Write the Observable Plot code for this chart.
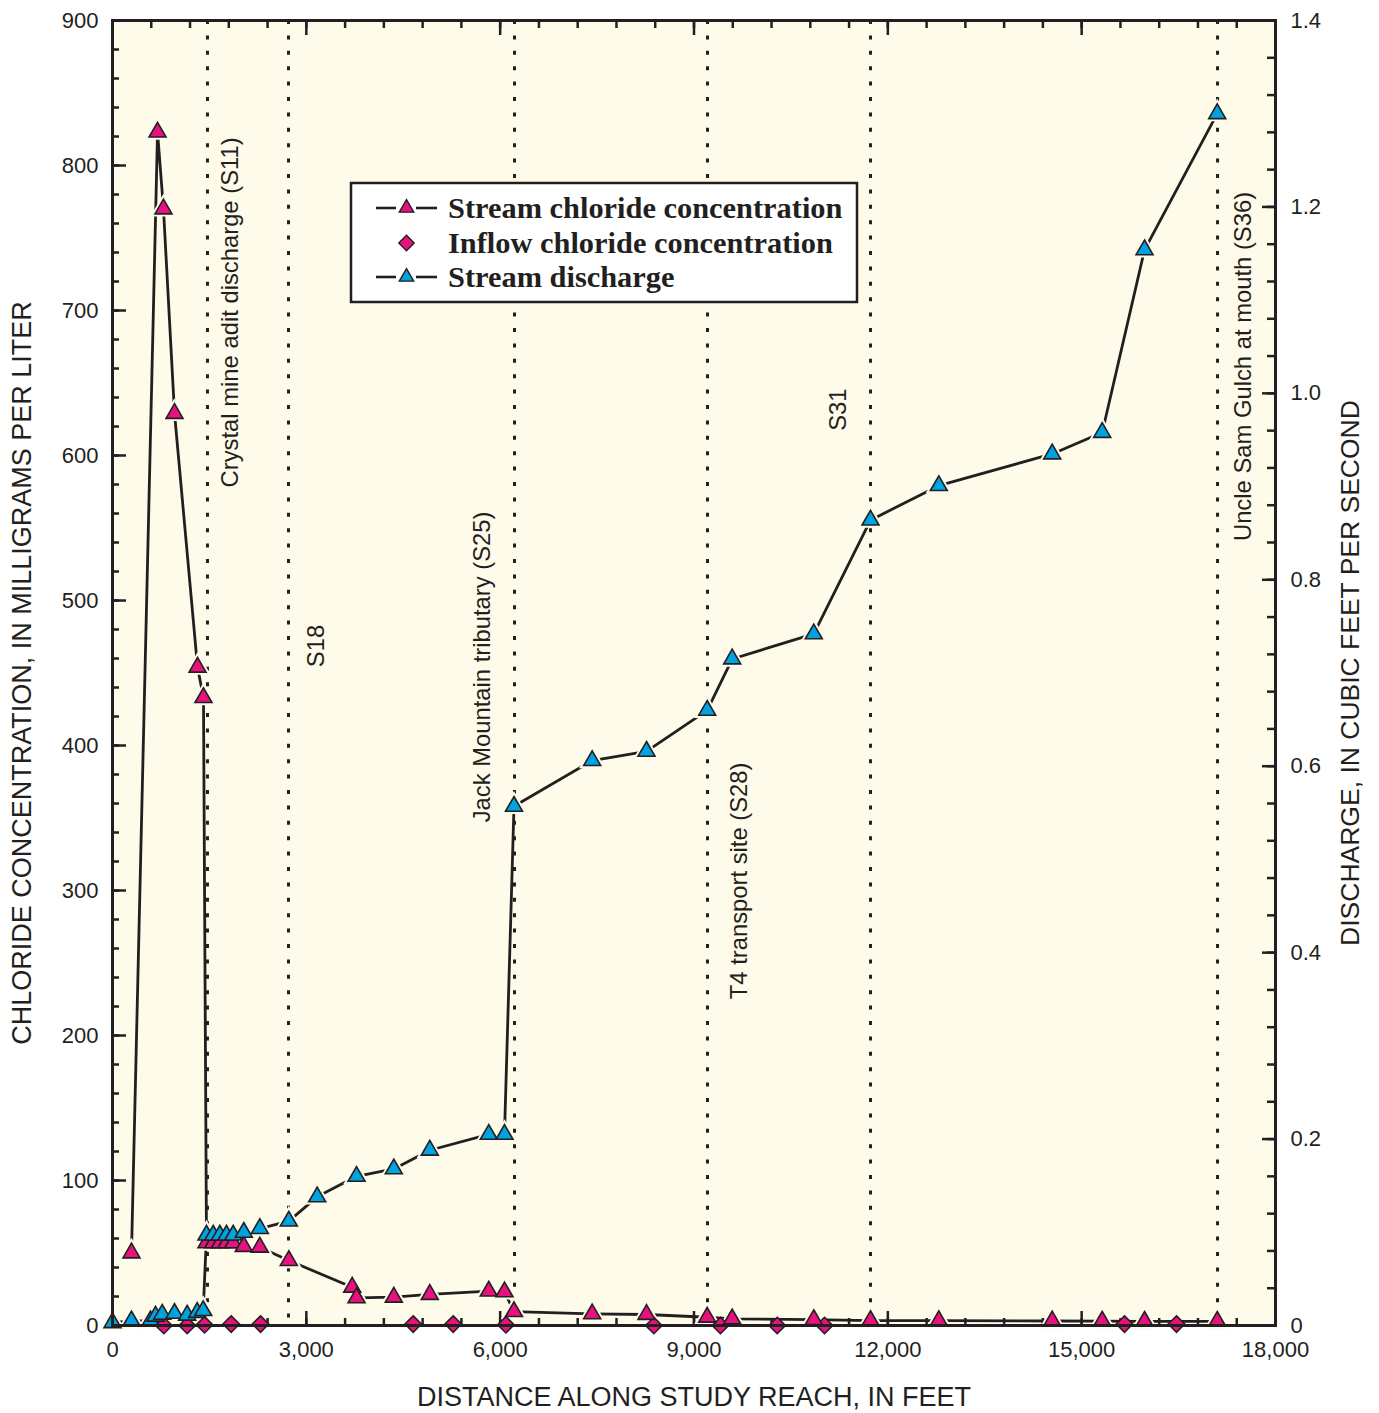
<!DOCTYPE html>
<html><head><meta charset="utf-8">
<script src="https://cdn.jsdelivr.net/npm/d3@7"></script>
<script src="https://cdn.jsdelivr.net/npm/@observablehq/plot@0.6"></script>
<style>body{margin:0;background:#fff;}</style>
</head><body><div id="chart"></div>
<script>
// ---- Data ----
const streamClDist = [294, 697, 789, 960, 1316, 1408, 1455, 1559, 1661, 1764, 1868, 2032, 2280, 2729, 3710, 3777, 4354, 4911, 5824, 6067, 6214, 7424, 8265, 9204, 9591, 10854, 11732, 12789, 14544, 15318, 15973, 17098];
const streamCl =     [50,  823, 770, 629, 454,  433,  57,   57,   57,   57,   57,   54.5, 54,   44.8, 26.4, 19.1, 19.5, 21.4, 23.7, 23.2, 9.6,  8.0,  7.6,  5.7,  4.6,  4.1,   3.4,   3.3,   3.1,   3.0,   2.9,   2.9];

const inflowDist = [794, 1156, 1424, 1837, 2291, 4654, 5273, 6089, 8378, 9410, 10288, 11020, 15663, 16468];
const inflowCl =   [0,   0,    0.5,  1,    1,    1,    1,    0.5,  0,    0,    0,     0,     1,     1];

const dischargeDist = [0, 294, 588, 666, 769, 960, 1156, 1311, 1404, 1455, 1559, 1661, 1764, 1868, 2032, 2280, 2729, 3168, 3777, 4354, 4911, 5824, 6067, 6214, 7424, 8265, 9204, 9591, 10854, 11732, 12789, 14544, 15318, 15973, 17098];
const discharge =     [0.003, 0.005, 0.005, 0.010, 0.012, 0.013, 0.011, 0.014, 0.016, 0.097, 0.097, 0.097, 0.097, 0.097, 0.100, 0.104, 0.112, 0.138, 0.160, 0.168, 0.188, 0.205, 0.205, 0.557, 0.606, 0.616, 0.660, 0.715, 0.742, 0.864, 0.901, 0.935, 0.958, 1.154, 1.300];

const siteDist =   [1470, 2724, 6222, 9209, 11732, 17103];
const siteLabels = ["Crystal mine adit discharge (S11)", "S18", "Jack Mountain tributary (S25)", "T4 transport site (S28)", "S31", "Uncle Sam Gulch at mouth (S36)"];
const siteLabelY = [578, 454, 347, 225, 617, 541];
const siteLabelDx = [23, 28, -32, 32, -32, 26];

const seriesNames = ["Stream chloride concentration", "Inflow chloride concentration", "Stream discharge"];

const xTickLabels = [0, 3000, 6000, 9000, 12000, 15000, 18000];
const xMinorTicks = d3.range(0, 18001, 600);
const yLeftLabels = [0, 100, 200, 300, 400, 500, 600, 700, 800, 900];
const yLeftMinor = d3.range(0, 901, 20);
const yRightLabels = [0, 0.2, 0.4, 0.6, 0.8, 1.0, 1.2, 1.4];
const yRightMinor = d3.range(0, 36).map(i => i * 0.04);

// ---- Styling ----
const k = 900 / 1.4; // discharge -> left-axis units
const bg = "#fefbea", pink = "#e6137f", blue = "#00a3e0", ink = "#231f20";
const font = "'Liberation Sans', Arial, Helvetica, sans-serif";

const cl = streamClDist.map((d, i) => ({x: d, y: streamCl[i]}));
const inf = inflowDist.map((d, i) => ({x: d, y: inflowCl[i]}));
const q = dischargeDist.map((d, i) => ({x: d, y: discharge[i] * k}));
const sites = siteDist.map((d, i) => ({x: d, y: siteLabelY[i], label: siteLabels[i], dx: siteLabelDx[i]}));

const tickStyle = {stroke: ink, strokeWidth: 2.5, fill: "none"};

const plot = Plot.plot({
  width: 1379, height: 1413,
  marginLeft: 112, marginRight: 104, marginTop: 20, marginBottom: 88,
  x: {domain: [0, 18000]},
  y: {domain: [0, 900]},
  style: {fontFamily: font, fontSize: "22px", color: ink, background: "#fff", overflow: "visible"},
  marks: [
    Plot.frame({fill: bg, stroke: "none"}),
    Plot.ruleX(siteDist, {x: d => d, stroke: ink, strokeWidth: 3, strokeDasharray: "4,11.4"}),
    // inward ticks
    Plot.axisX({anchor: "bottom", ticks: xMinorTicks, tickSize: -7, ...tickStyle}),
    Plot.axisX({anchor: "bottom", ticks: xTickLabels, tickSize: -14, ...tickStyle}),
    Plot.axisX({anchor: "top", ticks: xMinorTicks, tickSize: -7, ...tickStyle}),
    Plot.axisX({anchor: "top", ticks: xTickLabels, tickSize: -14, ...tickStyle}),
    Plot.axisY({anchor: "left", ticks: yLeftMinor, tickSize: -7, ...tickStyle}),
    Plot.axisY({anchor: "left", ticks: yLeftLabels, tickSize: -14, ...tickStyle}),
    Plot.axisY({anchor: "right", ticks: yRightMinor.map(v => v * k), tickSize: -9, ...tickStyle}),
    Plot.axisY({anchor: "right", ticks: yRightLabels.map(v => v * k), tickSize: -14, ...tickStyle}),
    // tick labels
    Plot.axisX({anchor: "bottom", ticks: xTickLabels, tickSize: 0, tickPadding: 16, tickFormat: d3.format(","), fontSize: 22, fill: ink, label: null}),
    Plot.axisY({anchor: "left", ticks: yLeftLabels, tickSize: 0, tickPadding: 14, tickFormat: d => String(d), fontSize: 22, fill: ink, label: null}),
    Plot.axisY({anchor: "right", ticks: yRightLabels.map(v => v * k), tickSize: 0, tickPadding: 15, tickFormat: d => { const v = d / k; return v < 1e-9 ? "0" : v.toFixed(1); }, fontSize: 22, fill: ink, label: null}),
    // axis titles
    Plot.text(["CHLORIDE CONCENTRATION, IN MILLIGRAMS PER LITER"], {frameAnchor: "left", dx: -90, rotate: -90, text: d => d, textAnchor: "middle", lineAnchor: "middle", fontSize: 27, fill: ink}),
    Plot.text(["DISCHARGE, IN CUBIC FEET PER SECOND"], {frameAnchor: "right", dx: 75, rotate: -90, text: d => d, textAnchor: "middle", lineAnchor: "middle", fontSize: 26.5, fill: ink}),
    Plot.text(["DISTANCE ALONG STUDY REACH, IN FEET"], {frameAnchor: "bottom", dy: 72, text: d => d, textAnchor: "middle", lineAnchor: "middle", fontSize: 27, fill: ink}),
    // site annotations
    ...sites.map(s => Plot.text([s], {x: "x", y: "y", text: "label", rotate: -90, textAnchor: "start", lineAnchor: "middle", dx: s.dx, fontSize: 23.8, fill: ink})),
    // lines
    Plot.line(cl, {x: "x", y: "y", stroke: ink, strokeWidth: 2.8}),
    Plot.line(q, {x: "x", y: "y", stroke: ink, strokeWidth: 2.8}),
    // halos (gaps around markers)
    Plot.dot(cl, {x: "x", y: "y", symbol: "triangle", r: 9.8, fill: bg, stroke: "none"}),
    Plot.dot(q, {x: "x", y: "y", symbol: "triangle", r: 9.8, fill: bg, stroke: "none"}),
    // markers
    Plot.dot(inf, {x: "x", y: "y", symbol: "diamond2", r: 7.4, fill: pink, stroke: ink, strokeWidth: 1.6}),
    Plot.dot(cl, {x: "x", y: "y", symbol: "triangle", r: 6.3, fill: pink, stroke: ink, strokeWidth: 1.6}),
    Plot.dot(q, {x: "x", y: "y", symbol: "triangle", r: 6.3, fill: blue, stroke: ink, strokeWidth: 1.6}),
    Plot.frame({stroke: ink, strokeWidth: 3})
  ]
});

document.getElementById("chart").appendChild(plot);

// ---- Legend (inside plot area) ----
const svg = d3.select(plot);
const lg = svg.append("g").attr("class", "legend").attr("text-anchor", "start");
lg.append("rect").attr("x", 351).attr("y", 183).attr("width", 506).attr("height", 119)
  .attr("fill", "#fff").attr("stroke", ink).attr("stroke-width", 2.5);
const rows = [
  {name: seriesNames[0], y: 208, sym: d3.symbolTriangle, fill: pink, line: true, size: 90},
  {name: seriesNames[1], y: 243, sym: d3.symbolDiamond2, fill: pink, line: false, size: 150},
  {name: seriesNames[2], y: 277, sym: d3.symbolTriangle, fill: blue, line: true, size: 90}
];
for (const r of rows) {
  if (r.line) {
    lg.append("line").attr("x1", 376).attr("x2", 396).attr("y1", r.y).attr("y2", r.y).attr("stroke", ink).attr("stroke-width", 2.6);
    lg.append("line").attr("x1", 416).attr("x2", 437).attr("y1", r.y).attr("y2", r.y).attr("stroke", ink).attr("stroke-width", 2.6);
  }
  lg.append("path").attr("d", d3.symbol(r.sym, r.size)()).attr("transform", `translate(406.5,${r.y})`)
    .attr("fill", r.fill).attr("stroke", ink).attr("stroke-width", 1.4);
  lg.append("text").attr("x", 448).attr("y", r.y + 10).attr("text-anchor", "start").text(r.name)
    .attr("font-family", "'Liberation Serif', 'Times New Roman', serif").attr("font-weight", "bold")
    .attr("font-size", 30.4).attr("fill", ink);
}
</script>
</body></html>
